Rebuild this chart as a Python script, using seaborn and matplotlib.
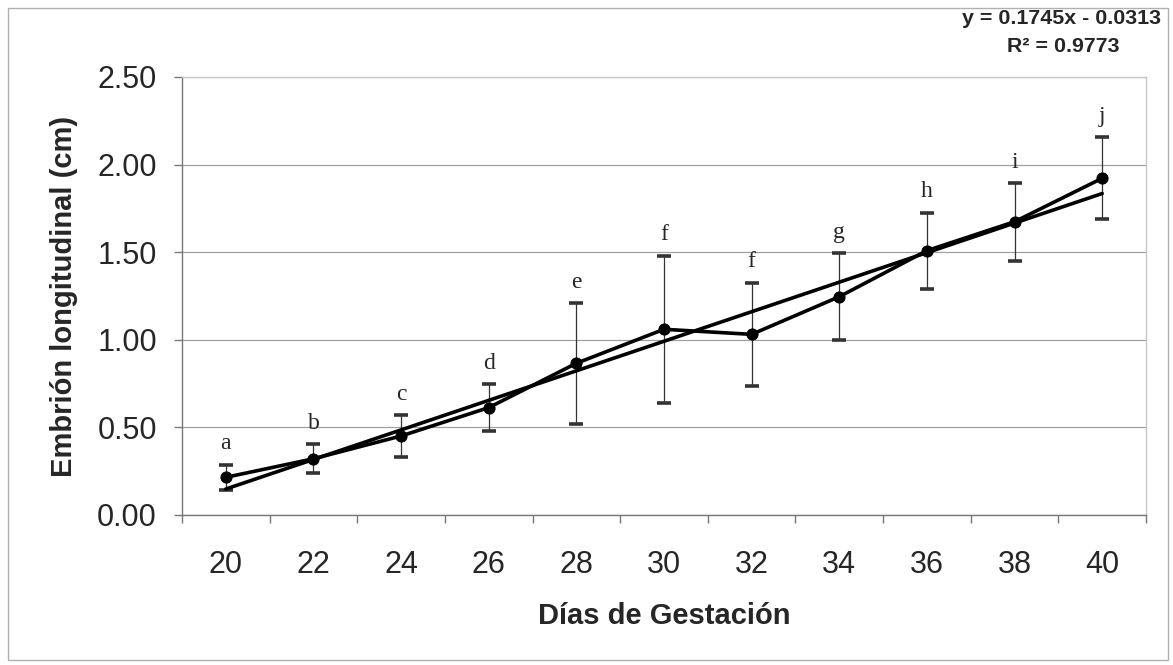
import numpy as np
import pandas as pd
import matplotlib
matplotlib.use("Agg")
import matplotlib.pyplot as plt
from matplotlib.patches import Rectangle
from matplotlib.ticker import FixedLocator
import seaborn as sns

# ---- data ----
dias = [20, 22, 24, 26, 28, 30, 32, 34, 36, 38, 40]
letras = ["a", "b", "c", "d", "e", "f", "f", "g", "h", "i", "j"]
media = [0.215, 0.321, 0.451, 0.613, 0.866, 1.060, 1.031, 1.246, 1.509, 1.674, 1.922]
desv = [0.072, 0.084, 0.119, 0.135, 0.345, 0.420, 0.295, 0.247, 0.217, 0.222, 0.233]
ecuacion = "y = 0.1745x - 0.0313"
r2_txt = "R² = 0.9773"
y_ticks = [0.0, 0.5, 1.0, 1.5, 2.0, 2.5]

sns.set_style("white")
plt.rcParams["font.family"] = ["Liberation Sans", "DejaVu Sans"]

df = pd.DataFrame({"dias": dias, "media": media, "desv": desv, "letra": letras})
df["pos"] = np.arange(len(df))

W, H = 1173, 665
fig = plt.figure(figsize=(W / 100, H / 100), dpi=100)
ax = fig.add_axes([182 / W, 1 - 515 / H, (1146 - 182) / W, (515 - 77) / H])

# error bars
ax.errorbar(df["pos"], df["media"], yerr=df["desv"], fmt="none",
            ecolor="#333333", elinewidth=0.9, capsize=4.8, capthick=2.6, zorder=2)

# linear trend
sns.regplot(data=df, x="pos", y="media", ci=None, scatter=False, truncate=True,
            line_kws=dict(color="black", lw=2.6, zorder=3), ax=ax)

# mean line with markers
sns.lineplot(data=df, x="pos", y="media", color="black", lw=2.6, marker="o",
             markersize=8, markeredgecolor="black", ax=ax, zorder=4)

# significance letters
for p, m, s, l in zip(df["pos"], df["media"], df["desv"], df["letra"]):
    ax.annotate(l, (p, m + s), xytext=(0, 11), textcoords="offset points",
                ha="center", va="baseline", fontsize=17,
                family=["Liberation Serif", "DejaVu Serif"])

ax.set_xlim(-0.5, len(dias) - 0.5)
ax.set_ylim(0, 2.5)
ax.yaxis.set_major_locator(FixedLocator(y_ticks))
ax.set_yticklabels([f"{v:.2f}" for v in y_ticks])
ax.set_xticks(df["pos"])
ax.set_xticklabels([str(d) for d in dias])
ax.xaxis.set_minor_locator(FixedLocator(np.arange(-0.5, len(dias), 1.0)))

ax.tick_params(axis="x", which="major", length=0, pad=25, labelsize=22)
ax.tick_params(axis="x", which="minor", length=6, width=1, color="#777777", direction="out", bottom=True)
ax.tick_params(axis="y", which="major", length=6, width=1, color="#777777", direction="out",
               left=True, pad=12, labelsize=22)

ax.grid(axis="y", color="#a0a0a0", lw=0.9)
ax.grid(axis="x", visible=False)
for side in ["left", "bottom"]:
    ax.spines[side].set_color("#777777")
    ax.spines[side].set_linewidth(1.0)
for side in ["top", "right"]:
    ax.spines[side].set_visible(True)
    ax.spines[side].set_color("#c8c8c8")
    ax.spines[side].set_linewidth(1.0)

ax.set_xlabel("Días de Gestación", fontsize=21, fontweight="bold", labelpad=16)
ax.set_ylabel("Embrión longitudinal (cm)", fontsize=21, fontweight="bold", labelpad=14)

fig.text(1062 / W, 1 - 18 / H, ecuacion, ha="center", va="center", fontsize=15.4, fontweight="bold")
fig.text(1063 / W, 1 - 47 / H, r2_txt, ha="center", va="center", fontsize=15.4, fontweight="bold")

fig.patches.append(Rectangle((8 / W, 1 - 660 / H), (1168 - 8) / W, (660 - 8) / H,
                             transform=fig.transFigure, fill=False,
                             edgecolor="#b0b0b0", lw=1.0))

fig.savefig("out.png", dpi=100)
